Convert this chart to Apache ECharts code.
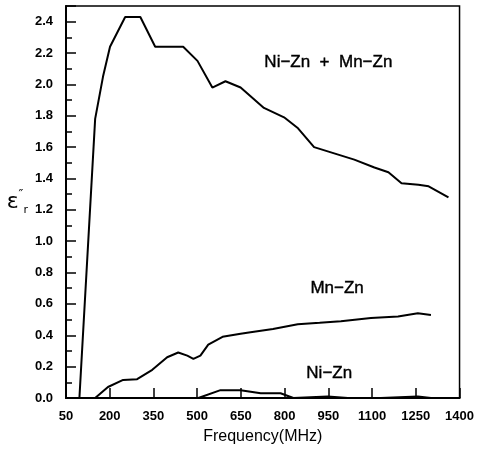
<!DOCTYPE html>
<html>
<head>
<meta charset="utf-8">
<script src="https://cdn.jsdelivr.net/npm/echarts@6/dist/echarts.min.js"></script>
<style>
  html, body { margin: 0; padding: 0; background: #fff; }
  #chart { width: 477px; height: 455px; }
</style>
</head>
<body>
<div id="chart"></div>
<script>
// values (frequency in MHz, permeability loss)
const comboFreq = [96, 150, 177, 201, 253, 305, 356, 384, 452, 501, 552, 597, 649, 729, 798, 846, 901, 970, 1039, 1108, 1156, 1201, 1259, 1294, 1362];
const comboVal = [0, 1.78, 2.05, 2.24, 2.43, 2.43, 2.24, 2.24, 2.24, 2.15, 1.98, 2.02, 1.98, 1.85, 1.79, 1.72, 1.60, 1.56, 1.52, 1.47, 1.44, 1.37, 1.36, 1.35, 1.28];

const mnFreq = [100, 150, 194, 246, 294, 346, 397, 435, 466, 487, 511, 538, 587, 649, 683, 760, 845, 920, 993, 1096, 1189, 1257, 1302];
const mnVal = [0, 0, 0.07, 0.115, 0.12, 0.18, 0.26, 0.29, 0.27, 0.25, 0.27, 0.34, 0.39, 0.41, 0.42, 0.44, 0.47, 0.48, 0.49, 0.51, 0.52, 0.54, 0.53];

const niFreq = [100, 504, 580, 649, 718, 786, 830, 948, 1017, 1130, 1257, 1302];
const niVal = [0, 0, 0.05, 0.05, 0.03, 0.03, 0, 0.01, 0, 0, 0.01, 0];

const xStart = 50;   // first tick label
const xTicks = [50, 200, 350, 500, 650, 800, 950, 1100, 1250, 1400];
const notes = [
  { f: 950, v: 2.14, text: 'Ni\u2212Zn  +  Mn\u2212Zn' },
  { f: 980, v: 0.70, text: 'Mn\u2212Zn' },
  { f: 953, v: 0.16, text: 'Ni\u2212Zn' }
];

// axis runs from 0 so the 150 MHz interval lines up with min
const pairs = (fs, vs) => fs.map((f, i) => [f - xStart, vs[i]]);

const chart = echarts.init(document.getElementById('chart'));
const lineStyle = { color: '#000', width: 2 };

chart.setOption({
  animation: false,
  grid: {
    left: 66, right: 17, top: 6, bottom: 57,
    show: true, borderColor: '#000', borderWidth: 1.5, backgroundColor: 'transparent'
  },
  xAxis: {
    type: 'value',
    min: 0, max: xTicks[xTicks.length - 1] - xStart, interval: 150,
    name: 'Frequency(MHz)',
    nameLocation: 'middle', nameGap: 31,
    nameTextStyle: { color: '#000', fontSize: 16, fontFamily: 'Liberation Sans' },
    axisLine: { lineStyle: { color: '#000', width: 2 } },
    axisTick: { inside: true, length: 10, lineStyle: { color: '#000', width: 1.5 } },
    axisLabel: {
      color: '#000', fontSize: 13, fontWeight: 'bold', fontFamily: 'Liberation Sans', margin: 12,
      formatter: v => String(v + xStart)
    },
    splitLine: { show: false }
  },
  yAxis: {
    type: 'value',
    min: 0, max: 2.5, interval: 0.2,
    name: '{e|\u03b5}{p|\u2033}{r|r}',
    nameLocation: 'middle', nameRotate: 0, nameGap: 38,
    nameTextStyle: {
      color: '#000',
      rich: {
        e: { fontSize: 22, fontFamily: 'DejaVu Sans', lineHeight: 28, verticalAlign: 'middle' },
        p: { fontSize: 13, fontFamily: 'DejaVu Sans', verticalAlign: 'top' },
        r: { fontSize: 11, fontFamily: 'DejaVu Sans', verticalAlign: 'bottom' }
      }
    },
    axisLine: { show: true, lineStyle: { color: '#000', width: 2 } },
    axisTick: { show: true, inside: true, length: 10, lineStyle: { color: '#000', width: 1.5 } },
    minorTick: { show: true, splitNumber: 2, length: 6, lineStyle: { color: '#000', width: 1.5 } },
    axisLabel: {
      color: '#000', fontSize: 13, fontWeight: 'bold', fontFamily: 'Liberation Sans', margin: 13,
      formatter: v => (Math.abs(v / 0.2 - Math.round(v / 0.2)) < 1e-6 ? v.toFixed(1) : '')
    },
    splitLine: { show: false },
    minorSplitLine: { show: false }
  },
  series: [
    { type: 'line', data: pairs(comboFreq, comboVal), showSymbol: false, lineStyle: lineStyle, z: 3 },
    { type: 'line', data: pairs(mnFreq, mnVal), showSymbol: false, lineStyle: lineStyle, z: 3 },
    { type: 'line', data: pairs(niFreq, niVal), showSymbol: false, lineStyle: lineStyle, z: 3 },
    {
      type: 'scatter',
      symbolSize: 0,
      itemStyle: { opacity: 1 },
      data: notes.map(n => ({ value: [n.f - xStart, n.v], name: n.text })),
      label: {
        show: true, position: 'inside', formatter: p => p.name,
        color: '#000', opacity: 1, fontSize: 17, fontFamily: 'Liberation Sans',
        textBorderColor: '#000', textBorderWidth: 0.4
      },
      silent: true
    }
  ]
});
</script>
</body>
</html>
